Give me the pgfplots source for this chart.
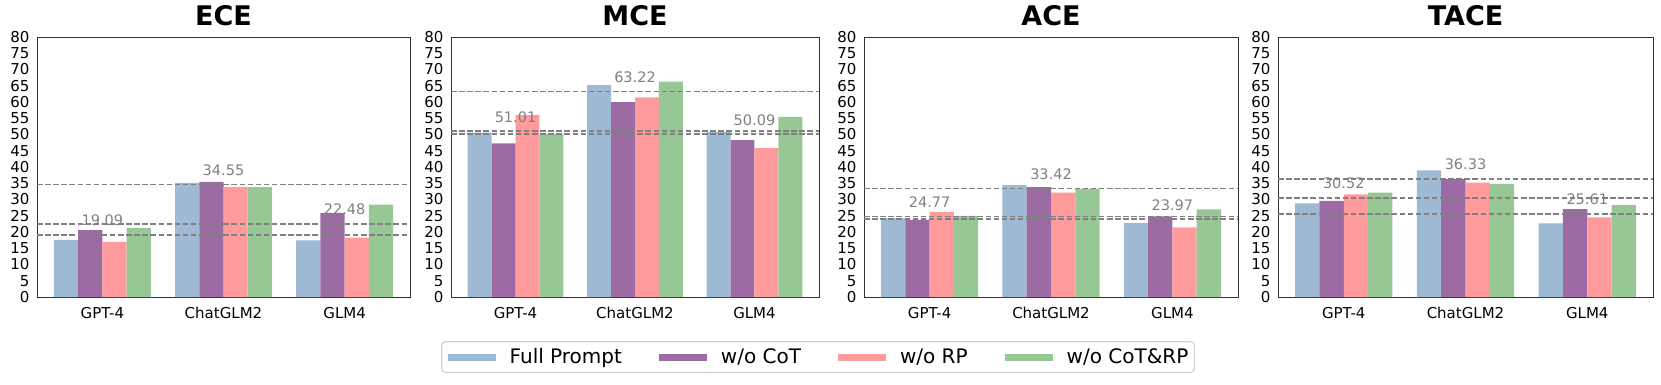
\documentclass[border=0pt]{standalone}
\usepackage{pgfplots}
\pgfplotsset{compat=1.18}
\usepackage{pgfplotstable}
\usepackage{fontspec}
\setmainfont{DejaVu Sans}

\definecolor{cfull}{HTML}{9EB9D4}
\definecolor{ccot}{HTML}{9C6BA3}
\definecolor{crp}{HTML}{FF9B9C}
\definecolor{cboth}{HTML}{98C796}

% x: 0 = GPT-4, 1 = ChatGLM2, 2 = GLM4
\pgfplotstableread{
x full cot rp both
0 17.6 20.6 17.0 21.2
1 35.1 35.4 33.9 33.8
2 17.4 25.8 18.3 28.4
}\ece
\pgfplotstableread{
x full cot rp both
0 50.6 47.3 56.0 50.1
1 65.2 60.0 61.4 66.3
2 50.8 48.3 45.8 55.45
}\mce
\pgfplotstableread{
x full cot rp both
0 24.2 23.7 26.2 24.97
1 34.4 33.8 32.1 33.38
2 22.7 24.8 21.4 26.98
}\ace
\pgfplotstableread{
x full cot rp both
0 28.8 29.6 31.6 32.08
1 39.0 36.3 35.2 34.82
2 22.65 27.05 24.5 28.24
}\tace

\pgfplotsset{
  panel/.style={
    scale only axis, height=260pt, anchor=south west,
    ymin=0, ymax=80, ytick={0,5,...,80},
    xmin=-0.54, xmax=2.54, xtick={0,1,2},
    xticklabels={GPT-4,ChatGLM2,GLM4},
    major tick length=0pt,
    axis line style={black!80, line width=1pt},
    tick label style={font=\fontsize{15}{18}\selectfont},
    /pgf/number format/assume math mode=true,
    yticklabel style={xshift=-4pt},
    xticklabel style={anchor=base, yshift=-21.5pt},
    title style={font=\fontsize{27}{32}\selectfont\bfseries, at={(0.5,1)}, anchor=base, yshift=6pt},
  },
  mybar/.style n args={2}{ybar, bar width=0.2, bar shift=#2, fill=#1, draw=none,
    legend image code/.code={\fill[#1, sharp corners] (0pt,-3.5pt) rectangle (48pt,3.5pt);}},
  meanline/.style={black!50, dash pattern=on 5.5pt off 2.6pt, line width=1.5pt, forget plot, mark=none},
  meanlab/.style={draw=none, mark=none, forget plot, nodes near coords,
    point meta=explicit symbolic,
    every node near coord/.style={anchor=base, yshift=9pt, inner sep=0pt,
      font=\fontsize{14.5}{17}\selectfont, text=gray}},
}

\begin{document}
\begin{tikzpicture}
\path[use as bounding box] (0,0) rectangle (1661pt,384pt);

\begin{axis}[panel, width=373pt, at={(37pt,87pt)}, title=ECE]
\addplot[mybar={cfull}{-0.3}] table[x=x,y=full] {\ece};
\addplot[mybar={ccot}{-0.1}] table[x=x,y=cot] {\ece};
\addplot[mybar={crp}{0.1}] table[x=x,y=rp] {\ece};
\addplot[mybar={cboth}{0.3}] table[x=x,y=both] {\ece};
\addplot[meanline] coordinates {(-0.54,19.09) (2.54,19.09)};
\addplot[meanline] coordinates {(-0.54,34.55) (2.54,34.55)};
\addplot[meanline] coordinates {(-0.54,22.48) (2.54,22.48)};
\addplot[meanlab] coordinates {(0,19.09) [19.09] (1,34.55) [34.55] (2,22.48) [22.48]};
\end{axis}

\begin{axis}[panel, width=368pt, at={(451pt,87pt)}, title=MCE,
  legend columns=4,
  legend style={at={(0.9973,-0.2308)}, anchor=center,
    draw=black!18, rounded corners=4pt, line width=1.2pt,
    inner xsep=6pt, inner ysep=7pt,
    font=\fontsize{20}{24}\selectfont, nodes={inner sep=0pt},
    /tikz/every odd column/.append style={column sep=14pt},
    /tikz/every even column/.append style={column sep=37pt}}]
\addplot[mybar={cfull}{-0.3}] table[x=x,y=full] {\mce};
\addplot[mybar={ccot}{-0.1}] table[x=x,y=cot] {\mce};
\addplot[mybar={crp}{0.1}] table[x=x,y=rp] {\mce};
\addplot[mybar={cboth}{0.3}] table[x=x,y=both] {\mce};
\addplot[meanline] coordinates {(-0.54,51.01) (2.54,51.01)};
\addplot[meanline] coordinates {(-0.54,63.22) (2.54,63.22)};
\addplot[meanline] coordinates {(-0.54,50.09) (2.54,50.09)};
\addplot[meanlab] coordinates {(0,51.01) [51.01] (1,63.22) [63.22] (2,50.09) [50.09]};
\legend{Full Prompt, w/o CoT, w/o RP, w/o CoT\&RP}
\end{axis}

\begin{axis}[panel, width=374pt, at={(864pt,87pt)}, title=ACE]
\addplot[mybar={cfull}{-0.3}] table[x=x,y=full] {\ace};
\addplot[mybar={ccot}{-0.1}] table[x=x,y=cot] {\ace};
\addplot[mybar={crp}{0.1}] table[x=x,y=rp] {\ace};
\addplot[mybar={cboth}{0.3}] table[x=x,y=both] {\ace};
\addplot[meanline] coordinates {(-0.54,24.77) (2.54,24.77)};
\addplot[meanline] coordinates {(-0.54,33.42) (2.54,33.42)};
\addplot[meanline] coordinates {(-0.54,23.97) (2.54,23.97)};
\addplot[meanlab] coordinates {(0,24.77) [24.77] (1,33.42) [33.42] (2,23.97) [23.97]};
\end{axis}

\begin{axis}[panel, width=375pt, at={(1278pt,87pt)}, title=TACE]
\addplot[mybar={cfull}{-0.3}] table[x=x,y=full] {\tace};
\addplot[mybar={ccot}{-0.1}] table[x=x,y=cot] {\tace};
\addplot[mybar={crp}{0.1}] table[x=x,y=rp] {\tace};
\addplot[mybar={cboth}{0.3}] table[x=x,y=both] {\tace};
\addplot[meanline] coordinates {(-0.54,30.52) (2.54,30.52)};
\addplot[meanline] coordinates {(-0.54,36.33) (2.54,36.33)};
\addplot[meanline] coordinates {(-0.54,25.61) (2.54,25.61)};
\addplot[meanlab] coordinates {(0,30.52) [30.52] (1,36.33) [36.33] (2,25.61) [25.61]};
\end{axis}
\end{tikzpicture}
\end{document}
